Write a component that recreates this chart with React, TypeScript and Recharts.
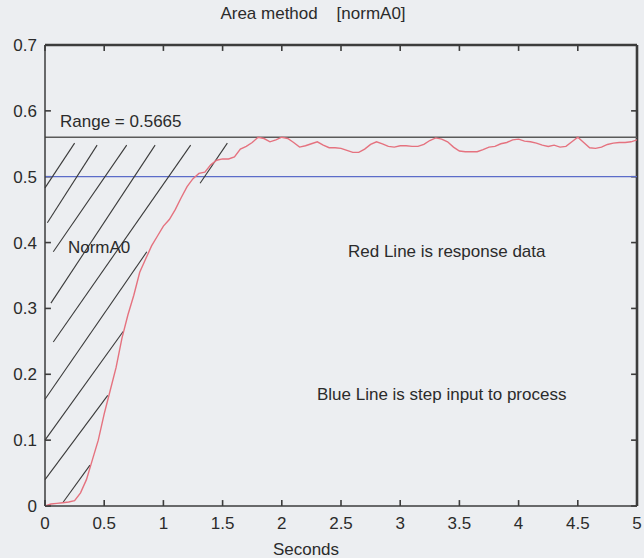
import React from 'react';
import { ComposedChart, Line, XAxis, YAxis, ReferenceLine, ReferenceDot } from 'recharts';

// ---- data ----
const timeS = [
  0, 0.05, 0.1, 0.15, 0.2, 0.25, 0.3, 0.35, 0.4, 0.45, 0.5, 0.55, 0.6, 0.65, 0.7, 0.75, 0.8, 0.85, 0.9, 0.95,
  1.0, 1.05, 1.1, 1.15, 1.2, 1.25, 1.3, 1.35, 1.4, 1.45, 1.5, 1.55, 1.6, 1.65, 1.7, 1.75, 1.8, 1.85, 1.9, 1.95,
  2.0, 2.05, 2.1, 2.15, 2.2, 2.25, 2.3, 2.35, 2.4, 2.45, 2.5, 2.55, 2.6, 2.65, 2.7, 2.75, 2.8, 2.85, 2.9, 2.95,
  3.0, 3.05, 3.1, 3.15, 3.2, 3.25, 3.3, 3.35, 3.4, 3.45, 3.5, 3.55, 3.6, 3.65, 3.7, 3.75, 3.8, 3.85, 3.9, 3.95,
  4.0, 4.05, 4.1, 4.15, 4.2, 4.25, 4.3, 4.35, 4.4, 4.45, 4.5, 4.55, 4.6, 4.65, 4.7, 4.75, 4.8, 4.85, 4.9, 4.95, 5.0,
];
const response = [
  0.0, 0.003, 0.004, 0.005, 0.006, 0.008, 0.02, 0.04, 0.07, 0.1, 0.14, 0.175, 0.21, 0.255, 0.29, 0.32, 0.355, 0.375, 0.395, 0.41,
  0.425, 0.435, 0.45, 0.468, 0.485, 0.497, 0.505, 0.507, 0.518, 0.525, 0.527, 0.527, 0.53, 0.542, 0.546, 0.552, 0.56, 0.558, 0.553, 0.556,
  0.56, 0.558, 0.552, 0.545, 0.547, 0.55, 0.553, 0.548, 0.544, 0.544, 0.543, 0.54, 0.537, 0.537, 0.542, 0.549, 0.553, 0.55, 0.546, 0.545,
  0.547, 0.547, 0.546, 0.546, 0.549, 0.555, 0.559, 0.557, 0.553, 0.545, 0.539, 0.538, 0.538, 0.538, 0.541, 0.545, 0.546, 0.55, 0.552, 0.556,
  0.557, 0.554, 0.553, 0.551, 0.548, 0.546, 0.548, 0.545, 0.546, 0.553, 0.56, 0.552, 0.544, 0.543, 0.545, 0.549, 0.551, 0.552, 0.552, 0.553, 0.556,
];
const xTicks = [0, 0.5, 1, 1.5, 2, 2.5, 3, 3.5, 4, 4.5, 5];
const yTicks = [0, 0.1, 0.2, 0.3, 0.4, 0.5, 0.6, 0.7];
const xMin = 0;
const xMax = 5;
const yMin = 0;
const yMax = 0.7;
const stepLevel = 0.5;
const rangeLevel = 0.56;

// hatch strokes of the NormA0 area: start (t, value) -> end (t, value)
const hatchT1 = [0.0, 0.02, 0.07, 0.05, 0.07, 0.0, 0.0, 0.0, 0.15, 1.31];
const hatchV1 = [0.483, 0.43, 0.386, 0.308, 0.249, 0.162, 0.1, 0.04, 0.005, 0.49];
const hatchT2 = [0.25, 0.44, 0.69, 0.93, 1.23, 0.86, 0.66, 0.53, 0.38, 1.54];
const hatchV2 = [0.551, 0.548, 0.548, 0.548, 0.548, 0.386, 0.265, 0.168, 0.062, 0.551];

const noteText = ['Range = 0.5665', 'NormA0', 'Red Line is response data', 'Blue Line is step input to process'];
const noteT = [0.127, 0.194, 2.559, 2.297];
const noteV = [0.5755, 0.384, 0.378, 0.161];

const titleText = 'Area method    [normA0]';
const xLabel = 'Seconds';

const FONT = '"Liberation Sans", Arial, Helvetica, sans-serif';
const INK = '#2b2b2b';
const AXIS = '#3c3c3c';
// inward tick length expressed in axis units (about 6px each way)
const TICK_DY = 0.009;
const TICK_DX = 0.05;

const curve = timeS.map((t, i) => ({ t, v: response[i] }));
const hatches = hatchT1.map((t, i) => [
  { x: t, y: hatchV1[i] },
  { x: hatchT2[i], y: hatchV2[i] },
]);
const tickMarks = [
  ...xTicks.map((t) => [{ x: t, y: yMin }, { x: t, y: yMin + TICK_DY }]),
  ...xTicks.map((t) => [{ x: t, y: yMax }, { x: t, y: yMax - TICK_DY }]),
  ...yTicks.map((v) => [{ x: xMin, y: v }, { x: xMin + TICK_DX, y: v }]),
  ...yTicks.map((v) => [{ x: xMax, y: v }, { x: xMax - TICK_DX, y: v }]),
];

const tickStyle = { fill: INK, fontSize: 17, fontFamily: FONT };

export default function App() {
  return (
    <div style={{ position: 'absolute', left: 0, top: 0, width: 644, height: 558, background: '#eceef1', overflow: 'hidden' }}>
      <div style={{ position: 'absolute', left: 0, top: 5, width: 626, textAlign: 'center', fontFamily: FONT, fontSize: 17, lineHeight: '17px', color: INK, whiteSpace: 'pre' }}>
        {titleText}
      </div>
      <ComposedChart width={644} height={558} data={curve} margin={{ top: 45, right: 7, bottom: 0, left: 5 }}>
        <XAxis
          type="number"
          dataKey="t"
          domain={[xMin, xMax]}
          ticks={xTicks}
          height={52}
          tickSize={0}
          tickMargin={11}
          tickLine={false}
          tick={tickStyle}
          axisLine={{ stroke: AXIS, strokeWidth: 1.5 }}
          allowDataOverflow
        />
        <YAxis
          type="number"
          domain={[yMin, yMax]}
          ticks={yTicks}
          width={40}
          tickSize={0}
          tickMargin={8}
          tickLine={false}
          tick={tickStyle}
          axisLine={{ stroke: AXIS, strokeWidth: 1.5 }}
          allowDataOverflow
        />
        <ReferenceLine y={yMax} stroke={AXIS} strokeWidth={2.6} ifOverflow="visible" />
        <ReferenceLine x={xMax} stroke={AXIS} strokeWidth={2.6} ifOverflow="visible" />
        {tickMarks.map((seg, i) => (
          <ReferenceLine key={'t' + i} segment={seg} stroke={AXIS} strokeWidth={1.6} ifOverflow="visible" />
        ))}
        <ReferenceLine y={stepLevel} stroke="#5b6cc9" strokeWidth={1.3} />
        <ReferenceLine y={rangeLevel} stroke="#5a5a5a" strokeWidth={1.5} />
        {hatches.map((seg, i) => (
          <ReferenceLine key={'h' + i} segment={seg} stroke="#3a3a3a" strokeWidth={1.1} ifOverflow="visible" />
        ))}
        <Line
          type="linear"
          dataKey="v"
          stroke="#e5727f"
          strokeWidth={1.4}
          dot={false}
          isAnimationActive={false}
        />
        {noteText.map((txt, i) => (
          <ReferenceDot
            key={'n' + i}
            x={noteT[i]}
            y={noteV[i]}
            r={1}
            ifOverflow="visible"
            shape={(p: any) => (
              <text x={p.cx} y={p.cy} fill={INK} fontSize={17} fontFamily={FONT} textAnchor="start">
                {txt}
              </text>
            )}
          />
        ))}
      </ComposedChart>
      <div style={{ position: 'absolute', left: 0, top: 541, width: 612, textAlign: 'center', fontFamily: FONT, fontSize: 17, lineHeight: '17px', color: INK }}>
        {xLabel}
      </div>
    </div>
  );
}
